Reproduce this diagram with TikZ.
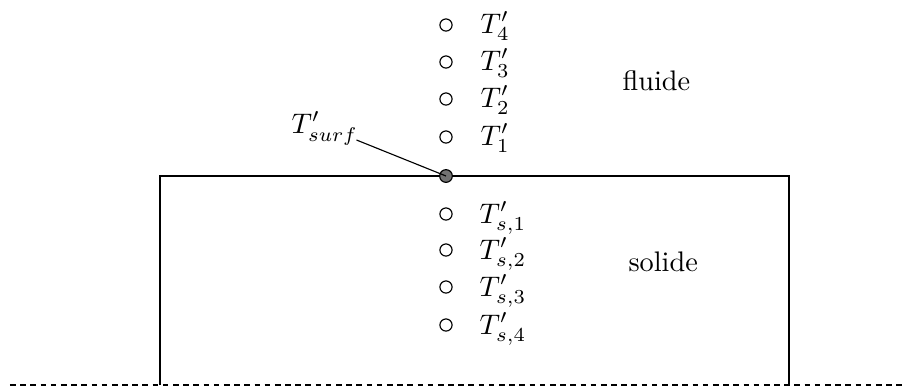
\documentclass[tikz,border=0pt]{standalone}
\begin{document}
\begin{tikzpicture}[x=0.35336pt,y=-0.35336pt,
  probe/.style={circle,draw,inner sep=0pt,minimum size=4.3pt,line width=0.4pt},
  surfdot/.style={circle,draw,fill=black!55,inner sep=0pt,minimum size=4.5pt,line width=0.4pt},
  lbl/.style={inner sep=0pt,anchor=base west},
  wall/.style={line width=0.4pt},
  base/.style={line width=0.4pt,dash pattern=on 2pt off 1.6pt}]
\useasboundingbox (0,0) rectangle (904,390);
% boundary
\coordinate (bl) at (10,385);
\coordinate (br) at (904,385);
\coordinate (rl) at (160,385);
\coordinate (rtl) at (160,176);
\coordinate (rtr) at (789,176);
\coordinate (rr) at (789,385);
\draw[base] (bl) -- (br);
\draw[wall] (rl) -- (rtl) -- (rtr) -- (rr);
% fluid probes
\node[probe] (f4) at (446,25) {};
\node[probe] (f3) at (446,62) {};
\node[probe] (f2) at (446,99) {};
\node[probe] (f1) at (446,137) {};
\node[lbl] (lf4) at (480,33) {$T'_4$};
\node[lbl] (lf3) at (480,70) {$T'_3$};
\node[lbl] (lf2) at (480,107) {$T'_2$};
\node[lbl] (lf1) at (480,145) {$T'_1$};
% surface
\node[surfdot] (s0) at (446,176) {};
\node[lbl] (surf) at (291,133) {$T'_{surf}$};
\draw[wall] ([shift={(-2,7)}]surf.base east) -- (s0.center);
% solid probes
\node[probe] (s1) at (446,214) {};
\node[probe] (s2) at (446,250) {};
\node[probe] (s3) at (446,287) {};
\node[probe] (s4) at (446,325) {};
\node[lbl] (ls1) at (479,223) {$T'_{s,1}$};
\node[lbl] (ls2) at (479,259) {$T'_{s,2}$};
\node[lbl] (ls3) at (479,296) {$T'_{s,3}$};
\node[lbl] (ls4) at (479,334) {$T'_{s,4}$};
% region labels
\node[lbl] (fl) at (622,90) {fluide};
\node[lbl] (so) at (628,271) {solide};
\end{tikzpicture}
\end{document}
